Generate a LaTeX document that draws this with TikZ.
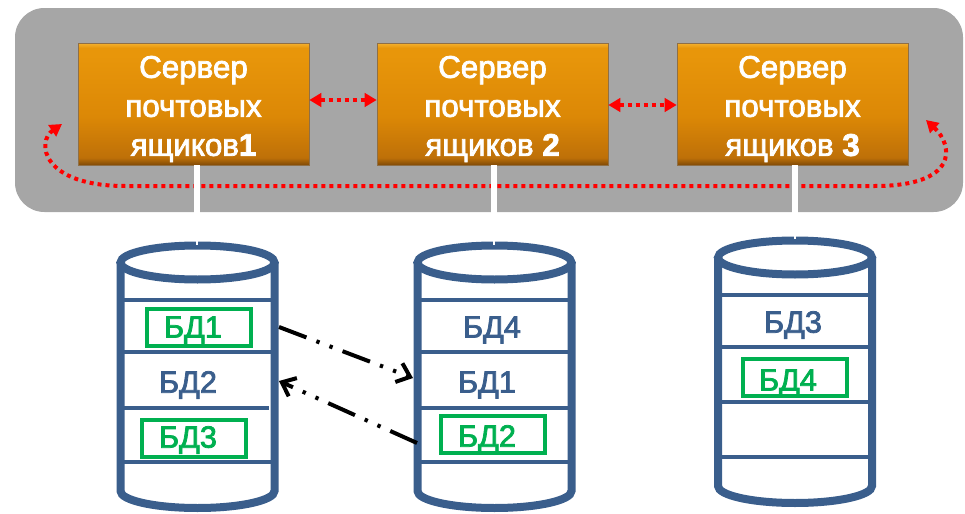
\documentclass[tikz,border=0pt]{standalone}
\usepackage{fontspec}
\setmainfont{Liberation Sans}
\newfontfamily\thickfont{Liberation Sans}[FakeBold=2.5]
\usetikzlibrary{arrows.meta,calc}
\definecolor{cylblue}{RGB}{58,94,140}
\definecolor{bdgreen}{RGB}{0,176,80}
\definecolor{panel}{RGB}{166,166,166}
\definecolor{orHi}{RGB}{244,178,48}
\definecolor{orT}{RGB}{232,150,10}
\definecolor{orM}{RGB}{220,136,6}
\definecolor{orL}{RGB}{190,112,8}
\definecolor{orB}{RGB}{128,74,6}
\definecolor{reddot}{RGB}{255,0,0}
\pgfdeclareverticalshading{orshade}{100bp}{color(0bp)=(orB); color(25bp)=(orB);
  color(28bp)=(orL); color(45bp)=(orM); color(70bp)=(orT); color(73bp)=(orT);
  color(75bp)=(orHi); color(100bp)=(orHi)}
\newcommand\dbcyl[3]{%
  \draw[cylline] ({#1-77},#2) -- ({#1-77},#3)
     arc[start angle=180,end angle=360,x radius=57.75pt,y radius=12.75pt]
     -- ({#1+77},#2);
  \draw[cylline] (#1,#2) ellipse[x radius=57.75pt,y radius=12.75pt];}
\begin{document}
\begin{tikzpicture}[x=0.75pt,y=-0.75pt,
  srv/.style={minimum width=173.25pt,minimum height=91.5pt,inner sep=0pt,
    shading=orshade,draw=orB!60!panel,line width=0.4pt},
  srvtxt/.style={text=white,font=\thickfont\fontsize{23.5}{29.25}\selectfont,align=center,inner sep=0pt},
  wire/.style={white,line width=5pt},
  cylline/.style={cylblue,line width=6pt},
  cylthin/.style={cylblue,line width=3pt},
  bdtxt/.style={text=cylblue,font=\thickfont\fontsize{23}{26}\selectfont,inner sep=0pt},
  bdgtxt/.style={text=bdgreen,font=\thickfont\fontsize{23}{26}\selectfont,inner sep=0pt},
  gbox/.style={draw=bdgreen,line width=3pt,minimum width=78pt,minimum height=28pt,inner sep=0pt},
  redlink/.style={reddot,line width=3pt,dash pattern=on 3pt off 3pt,
    {Triangle[length=9pt,width=10pt]}-{Triangle[length=9pt,width=10pt]}},
  movearrow/.style={black,line width=3pt,
    dash pattern=on 22pt off 8pt on 2.5pt off 8pt on 2.5pt off 8pt,
    -{Straight Barb[length=9pt,width=15pt,line width=3pt]}}]
\useasboundingbox (0,0) rectangle (965,514);
% panel
\fill[panel,rounded corners=22pt] (15,8) rectangle (963,212);
% servers
\node[srv] (b1) at (193.5,104) {};
\node[srv] (b2) at (492.5,104) {};
\node[srv] (b3) at (792.5,104) {};
\node[srvtxt] (s1) at ([yshift=-3.75pt]b1.center) {Сервер\\почтовых\\ящиков\textbf{1}};
\node[srvtxt] (s2) at ([yshift=-3.75pt]b2.center) {Сервер\\почтовых\\ящиков \textbf{2}};
\node[srvtxt] (s3) at ([yshift=-3.75pt]b3.center) {Сервер\\почтовых\\ящиков \textbf{3}};
% red links
\draw[redlink] ([yshift=3pt]b1.east) -- ([yshift=3pt]b2.west);
\draw[redlink] ([yshift=-0.75pt]b2.east) -- ([yshift=-0.75pt]b3.west);
\coordinate (loopL) at (62,124);
\coordinate (loopR) at (926,120);
\draw[redlink] (loopL) .. controls (36,142) and (42,186) .. (125,186)
   -- (875,186) .. controls (958,186) and (954,146) .. (loopR);
% cylinders
\dbcyl{197.5}{262.5}{491}
\dbcyl{494.5}{262.5}{491}
\dbcyl{795}{257.5}{486}
\foreach \yy in {300,352,462} \draw[cylthin] (120.5,\yy) -- (274.5,\yy);
\draw[cylthin] (120.5,408) -- (269,408);
\foreach \yy in {300,352,408,462} \draw[cylthin] (417.5,\yy) -- (571.5,\yy);
\foreach \yy in {295,347,402,457} \draw[cylthin] (718,\yy) -- (872,\yy);
% wires
\coordinate (c1top) at (197,241);
\coordinate (c2top) at (494,241);
\coordinate (c3top) at (795,235);
\draw[wire] (b1.south -| c1top) -- (c1top);
\draw[wire] (b2.south -| c2top) -- (c2top);
\draw[wire] (b3.south -| c3top) -- (c3top);
\draw[white,line width=2pt] (c1top) -- ++(0,4);
\draw[white,line width=2pt] (c2top) -- ++(0,4);
\draw[white,line width=2pt] (c3top) -- ++(0,4);
% database labels
\node[gbox] (g11) at (199,327.5) {};
\node[gbox] (g13) at (194,438.5) {};
\node[gbox] (g23) at (492.5,434.5) {};
\node[gbox] (g32) at (795,377.5) {};
\node[bdgtxt] (t11) at (193,330) {БД1};
\node[bdtxt]  (t12) at (188,385) {БД2};
\node[bdgtxt] (t13) at (188,440) {БД3};
\node[bdtxt]  (t21) at (492,330) {БД4};
\node[bdtxt]  (t22) at (487,385) {БД1};
\node[bdgtxt] (t23) at (487,439) {БД2};
\node[bdtxt]  (t31) at (793,325) {БД3};
\node[bdgtxt] (t32) at (788,383) {БД4};
% move arrows
\coordinate (m1s) at (279,327);
\coordinate (m1e) at (413,378);
\coordinate (m2s) at (417,443);
\coordinate (m2e) at (279,381);
\draw[movearrow] (m1s) -- (m1e);
\draw[movearrow] (m2s) -- (m2e);
\end{tikzpicture}
\end{document}
